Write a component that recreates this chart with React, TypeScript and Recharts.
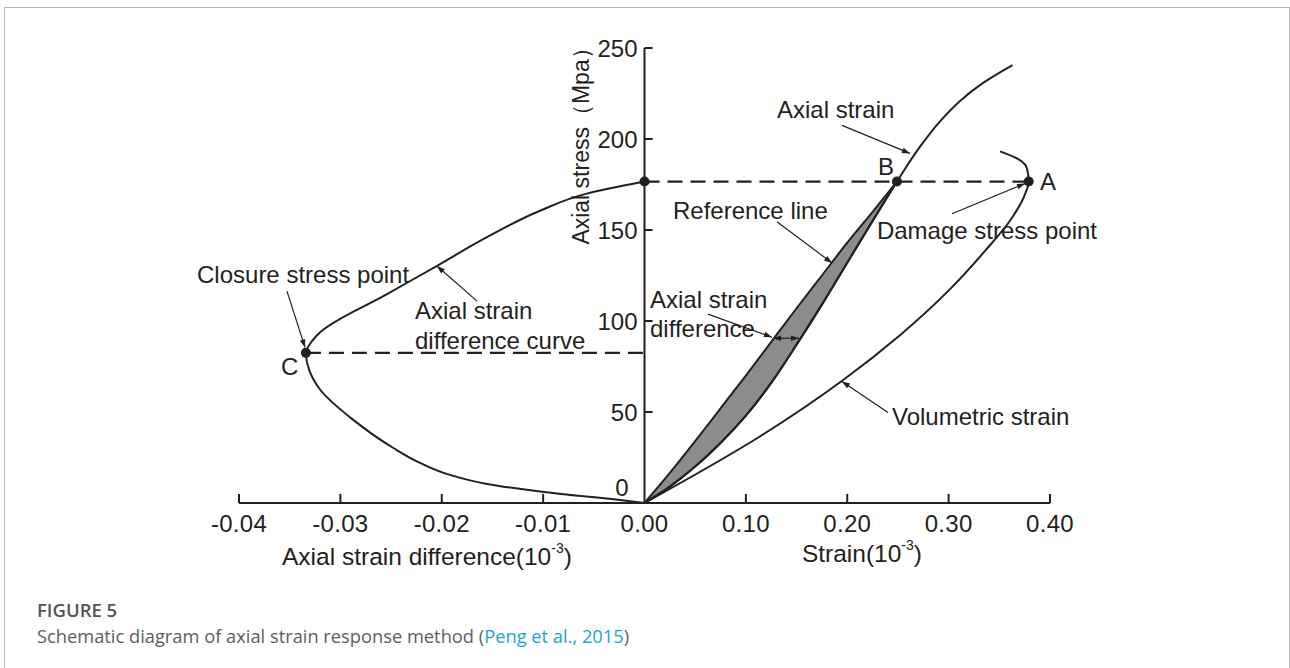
import React from 'react';
import { ComposedChart, XAxis, YAxis, Line, Area, ReferenceLine, ReferenceDot } from 'recharts';

const FONT = "'Liberation Sans',Arial,sans-serif";
const INK = '#231f20';

// Axis ticks. The visible axis runs in strain units (10^-3); on the negative side the
// labels show the axial strain difference, whose scale is ten times finer.
const xTicks = [-0.4, -0.3, -0.2, -0.1, 0, 0.1, 0.2, 0.3, 0.4];
const yTicks = [0, 50, 100, 150, 200, 250];

// Shaded band between the reference line and the axial strain curve
const bandStrain = [0, 0.025, 0.05, 0.075, 0.1, 0.125, 0.15, 0.175, 0.2, 0.225, 0.249];
const referenceStress = [0, 16.5, 34, 52, 70, 88.5, 107, 125, 143, 160, 176.6];
const axialStressLower = [0, 9, 20, 33, 48, 66, 87, 109, 132, 155, 176.6];

// Axial strain curve above point B
const axialUpperStrain = [0.272, 0.2915, 0.311, 0.334, 0.363];
const axialUpperStress = [195.9, 209.7, 220.8, 230.8, 240.6];

// Volumetric strain curve
const volStrain = [0, 0.1134, 0.1953, 0.252, 0.3014, 0.3359, 0.3605, 0.3744, 0.379, 0.3773, 0.3674, 0.3507];
const volStress = [0, 36.4, 67.3, 92.2, 117.5, 138.5, 155.1, 168.4, 176.6, 183.8, 189.3, 193.2];

// Axial strain difference curve (10^-3)
const diffStrain = [0, -0.00242, -0.00903, -0.01554, -0.01919, -0.02215, -0.02481, -0.02876, -0.03201, -0.0331, -0.0334,
  -0.0328, -0.032, -0.0254, -0.0205, -0.0155, -0.0103, -0.0057, 0];
const diffStress = [0, 1.66, 5.52, 10.49, 15.45, 22.08, 30.35, 45.81, 62.36, 73.4, 82.5,
  88.9, 93.8, 114.8, 130.2, 146.2, 160.6, 170, 176.6];

// Key points
const damageStress = 176.6;
const pointA = { strain: 0.379, stress: damageStress };
const pointB = { strain: 0.249, stress: damageStress };
const pointC = { diff: -0.0334, stress: 82.5 };

// Annotation texts [text, x, y, anchor] in units of the visible x axis
const notes: [string, number, number, string][] = [
  ['Axial strain', 0.1307, 216.3, 'start'],
  ['B', 0.2303, 184.9, 'start'],
  ['A', 0.3901, 176.6, 'start'],
  ['Reference line', 0.0281, 160.6, 'start'],
  ['Damage stress point', 0.2293, 149.6, 'start'],
  ['Axial strain', 0.0054, 112.0, 'start'],
  ['difference', 0.0054, 96.0, 'start'],
  ['Volumetric strain', 0.2441, 47.5, 'start'],
  ['Closure stress point', -0.4414, 125.3, 'start'],
  ['C', -0.3586, 75.1, 'start'],
  ['Axial strain', -0.2264, 106.0, 'start'],
  ['difference curve', -0.2264, 89.4, 'start'],
];

// Annotation arrows [x1, y1, x2, y2, doubleHeaded]
const arrows: [number, number, number, number, boolean][] = [
  [0.1948, 207.5, 0.2619, 192.1, false],
  [0.3033, 158.9, 0.3753, 175.5, false],
  [0.1307, 154.5, 0.185, 131.9, false],
  [0.0626, 103.8, 0.1258, 91.1, false],
  [0.1268, 90.5, 0.1524, 90.5, true],
  [0.2402, 49.7, 0.1948, 66.8, false],
  [-0.3527, 116.4, -0.3349, 85.5, false],
  [-0.1652, 110.9, -0.2047, 130.2, false],
];

const bandData = bandStrain.map((x, i) => ({ x, lo: axialStressLower[i], hi: referenceStress[i] }));
const axialData = [
  ...bandStrain.map((x, i) => ({ x, y: axialStressLower[i] })),
  ...axialUpperStrain.map((x, i) => ({ x, y: axialUpperStress[i] })),
];
const volData = volStrain.map((x, i) => ({ x, y: volStress[i] }));
const diffData = diffStrain.map((x, i) => ({ x, y: diffStress[i] }));

const fmtX = (v: number) => (v < 0 ? (v / 10).toFixed(2) : v.toFixed(2));

const textLabel = (text: string, anchor: string, fontSize = 24, dx = 0, dy = 0) => ({
  content: (p: any) => {
    const vb = p.viewBox || {};
    return (
      <text x={(vb.x ?? 0) + dx} y={(vb.y ?? 0) + dy} textAnchor={anchor as any} dominantBaseline="central"
        fontSize={fontSize} fontFamily={FONT} fill={INK}>{text}</text>
    );
  },
});

const head = (xa: number, ya: number, xb: number, yb: number, k: string) => {
  const ang = Math.atan2(yb - ya, xb - xa);
  const L = 8, W = 2.8;
  const bx = xb - L * Math.cos(ang), by = yb - L * Math.sin(ang);
  const nx = -Math.sin(ang) * W, ny = Math.cos(ang) * W;
  return <polygon key={k} points={`${xb},${yb} ${bx + nx},${by + ny} ${bx - nx},${by - ny}`} fill={INK} />;
};

const arrowShape = (both: boolean) => (p: any) => {
  const { x1, y1, x2, y2 } = p;
  if ([x1, y1, x2, y2].some((v) => typeof v !== 'number' || isNaN(v))) return <g />;
  return (
    <g>
      <line x1={x1} y1={y1} x2={x2} y2={y2} stroke={INK} strokeWidth={1.2} />
      {head(x1, y1, x2, y2, 'h1')}
      {both ? head(x2, y2, x1, y1, 'h2') : null}
    </g>
  );
};

const titleLabel = (main: string) => ({
  content: (p: any) => {
    const vb = p.viewBox || {};
    return (
      <text x={vb.x} y={vb.y} textAnchor="middle" dominantBaseline="central" fontSize={24.5} fontFamily={FONT} fill={INK}>
        {main}(10<tspan dy={-8} fontSize={14}>-3</tspan><tspan dy={8}>)</tspan>
      </text>
    );
  },
});

const yTitle = {
  content: (p: any) => {
    const vb = p.viewBox || {};
    return (
      <text x={vb.x} y={vb.y} transform={`rotate(-90 ${vb.x} ${vb.y})`} textAnchor="middle" dominantBaseline="central"
        fontSize={23} fontFamily={FONT} fill={INK}>Axial stress（Mpa）</text>
    );
  },
};

const EDGE = '#b8b8b8';

export default function App() {
  return (
    <div style={{ position: 'fixed', left: 0, top: 0, width: 1290, height: 668, background: '#fff', overflow: 'hidden' }}>
      <div style={{ position: 'absolute', left: 4, top: 7, width: 1286, height: 1, background: EDGE, zIndex: 10 }} />
      <div style={{ position: 'absolute', left: 4, top: 7, width: 1, height: 661, background: EDGE, zIndex: 10 }} />
      <div style={{ position: 'absolute', left: 1289, top: 7, width: 1, height: 661, background: EDGE, zIndex: 10 }} />
      <div style={{ position: 'absolute', left: 0, top: 0 }}>
        <ComposedChart width={1290} height={600} margin={{ top: 48, left: 239, right: 240, bottom: 67 }}>
          <XAxis xAxisId={0} type="number" dataKey="x" domain={[-0.4, 0.4]} ticks={xTicks} interval={0}
            allowDataOverflow tickFormatter={fmtX} height={30} tickLine={false} tickSize={0} tickMargin={12}
            axisLine={{ stroke: INK, strokeWidth: 2 }}
            tick={{ fill: INK, fontSize: 24, fontFamily: FONT, letterSpacing: 0.3 }} />
          <XAxis xAxisId="diff" type="number" dataKey="x" domain={[-0.04, 0.04]} allowDataOverflow hide />
          <YAxis type="number" domain={[0, 250]} ticks={yTicks} allowDataOverflow hide />

          <Area data={bandData} xAxisId={0} dataKey={(d: any) => [d.lo, d.hi]} type="monotone" stroke={INK}
            strokeWidth={2} fill="#8c8c8c" fillOpacity={1} dot={false} activeDot={false} isAnimationActive={false} />
          <Line data={axialData} xAxisId={0} dataKey="y" type="monotoneY" stroke={INK} strokeWidth={2}
            dot={false} activeDot={false} isAnimationActive={false} />
          <Line data={volData} xAxisId={0} dataKey="y" type="monotoneY" stroke={INK} strokeWidth={2}
            dot={false} activeDot={false} isAnimationActive={false} />
          <Line data={diffData} xAxisId="diff" dataKey="y" type="monotoneY" stroke={INK} strokeWidth={2}
            dot={false} activeDot={false} isAnimationActive={false} />

          {/* vertical stress axis at zero strain */}
          <ReferenceLine xAxisId={0} segment={[{ x: 0, y: 0 }, { x: 0, y: 250 }]} stroke={INK} strokeWidth={2} ifOverflow="visible" />
          {yTicks.filter((v) => v > 0).map((v) => (
            <ReferenceLine key={`yt${v}`} xAxisId={0} segment={[{ x: 0, y: v }, { x: 0.008, y: v }]} stroke={INK}
              strokeWidth={2} ifOverflow="visible" />
          ))}
          {yTicks.map((v) => (
            <ReferenceDot key={`yl${v}`} xAxisId={0} x={0} y={v} r={0} fill="none" stroke="none" ifOverflow="visible"
              label={textLabel(String(v), 'end', 24, v === 0 ? -16 : -7, v === 0 ? -16 : 0)} />
          ))}
          {xTicks.filter((v) => v !== 0).map((v) => (
            <ReferenceLine key={`xt${v}`} xAxisId={0} segment={[{ x: v, y: 0 }, { x: v, y: 5 }]} stroke={INK}
              strokeWidth={2} ifOverflow="visible" />
          ))}

          {/* dashed level lines */}
          <ReferenceLine xAxisId={0} segment={[{ x: 0, y: pointA.stress }, { x: pointA.strain, y: pointA.stress }]}
            stroke={INK} strokeWidth={2.2} strokeDasharray="15 8" ifOverflow="visible" />
          <ReferenceLine xAxisId="diff" segment={[{ x: pointC.diff, y: pointC.stress }, { x: 0, y: pointC.stress }]}
            stroke={INK} strokeWidth={2.2} strokeDasharray="15 8" ifOverflow="visible" />

          {/* arrows */}
          {arrows.map(([x1, y1, x2, y2, both], i) => (
            <ReferenceLine key={`ar${i}`} xAxisId={0} segment={[{ x: x1, y: y1 }, { x: x2, y: y2 }]} ifOverflow="visible"
              shape={arrowShape(both)} />
          ))}

          {/* key points */}
          <ReferenceDot xAxisId={0} x={pointA.strain} y={pointA.stress} r={5} fill={INK} stroke="none" ifOverflow="visible" />
          <ReferenceDot xAxisId={0} x={pointB.strain} y={pointB.stress} r={5} fill={INK} stroke="none" ifOverflow="visible" />
          <ReferenceDot xAxisId={0} x={0} y={damageStress} r={5} fill={INK} stroke="none" ifOverflow="visible" />
          <ReferenceDot xAxisId="diff" x={pointC.diff} y={pointC.stress} r={5} fill={INK} stroke="none" ifOverflow="visible" />

          {/* texts */}
          {notes.map(([t, x, y, a], i) => (
            <ReferenceDot key={`n${i}`} xAxisId={0} x={x} y={y} r={0} fill="none" stroke="none" ifOverflow="visible"
              label={textLabel(t, a)} />
          ))}
          <ReferenceDot xAxisId={0} x={-0.2146} y={-29.2} r={0} fill="none" stroke="none" ifOverflow="visible"
            label={titleLabel('Axial strain difference')} />
          <ReferenceDot xAxisId={0} x={0.2145} y={-27.6} r={0} fill="none" stroke="none" ifOverflow="visible"
            label={titleLabel('Strain')} />
          <ReferenceDot xAxisId={0} x={-0.0626} y={199.2} r={0} fill="none" stroke="none" ifOverflow="visible"
            label={yTitle} />
        </ComposedChart>
      </div>
      <div style={{ position: 'absolute', left: 37, top: 600, fontFamily: "'Open Sans','Noto Sans',sans-serif" }}>
        <div style={{ fontSize: 18.5, fontWeight: 600, color: '#555555', lineHeight: '20px' }}>FIGURE 5</div>
        <div style={{ fontSize: 18.3, color: '#5e5e5e', lineHeight: '24px', marginTop: 4 }}>
          Schematic diagram of axial strain response method (<span style={{ color: '#1ba6c8' }}>Peng et al., 2015</span>)
        </div>
      </div>
    </div>
  );
}
